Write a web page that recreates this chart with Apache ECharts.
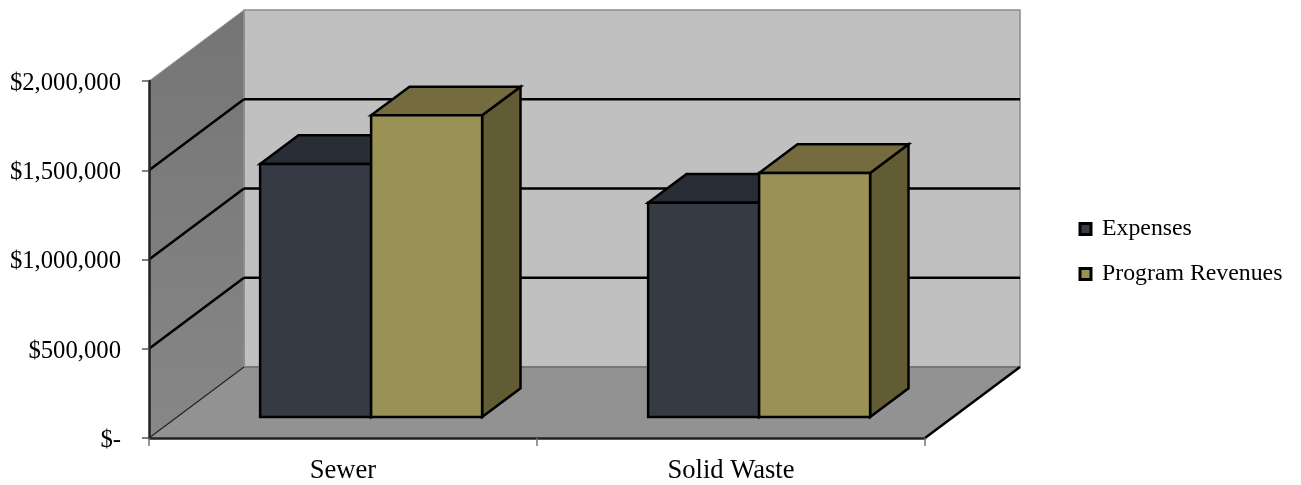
<!DOCTYPE html>
<html><head><meta charset="utf-8">
<style>html,body{margin:0;padding:0;background:#fff}#c{width:1301px;height:485px}</style>
<script src="https://cdn.jsdelivr.net/npm/echarts@6/dist/echarts.min.js"></script>
</head><body><div id="c"></div>
<script>
const categories = ['Sewer', 'Solid Waste'];
const expenses = [1417000, 1200000];
const programRevenues = [1690000, 1367000];
const yTicks = [0, 500000, 1000000, 1500000, 2000000];

const DX = 95, DY = 71;           // full depth of the 3D box
const FRONT = 0.296, BACK = 0.70; // depth of bar front and back faces
const BAR = 111 / 388;            // bar width as a share of the category band
const FONT = '"Liberation Serif","Times New Roman",serif';
const off = (p, t) => [p[0] + DX * t, p[1] - DY * t];
const line = (a, b, color, w) => ({type:'line', shape:{x1:a[0],y1:a[1],x2:b[0],y2:b[1]}, style:{stroke:color,lineWidth:w}, silent:true});
const poly = (pts, fill, stroke, w) => ({type:'polygon', shape:{points:pts}, style:{fill, stroke, lineWidth:w, lineJoin:'miter'}, silent:true});

function renderWalls(params, api) {
  const c = params.coordSys, l = c.x, r = c.x + c.width, t = c.y, b = c.y + c.height;
  const kids = [
    poly([[l,t],off([l,t],1),off([l,b],1),[l,b]], {type:'linear',x:0,y:0,x2:0,y2:1,colorStops:[{offset:0,color:'#757575'},{offset:1,color:'#878787'}]}, null, 0),
    poly([off([l,t],1),off([r,t],1),off([r,b],1),off([l,b],1)], '#c0c0c0', '#8c8c8c', 1.5),
    poly([[l,b],off([l,b],1),off([r,b],1),[r,b]], '#929292', null, 0),
    line(off([l,b],1), off([r,b],1), '#6e6e6e', 1.5),
    line([l,t], off([l,t],1), '#9a9a9a', 1),
    line(off([l,t],1), off([l,b],1), '#8c8c8c', 1.5),
    line([l,b], off([l,b],1), '#222', 1.2),
    line([r,b], off([r,b],1), '#000', 2.5)
  ];
  yTicks.slice(1, -1).forEach(v => {
    const y = api.coord([0, v])[1];
    kids.push(line([l,y], off([l,y],1), '#000', 2.5));
    kids.push(line(off([l,y],1), off([r,y],1), '#000', 2.5));
  });
  return {type:'group', children:kids};
}

function barRenderer(slot, front, top, side) {
  return function (params, api) {
    const i = api.value(0), v = api.value(1);
    const w = api.size([1, 0])[0] * BAR;
    const cx = api.coord([i, 0])[0];
    const y0 = api.coord([i, 0])[1], y1 = api.coord([i, v])[1];
    const x0 = cx + slot * w, x1 = x0 + w;
    const f = (x, y) => off([x, y], FRONT), k = (x, y) => off([x, y], BACK);
    return {type:'group', children:[
      poly([f(x1,y1),k(x1,y1),k(x1,y0),f(x1,y0)], side, '#000', 2.5),
      poly([f(x0,y1),k(x0,y1),k(x1,y1),f(x1,y1)], top, '#000', 2.5),
      poly([f(x0,y1),f(x1,y1),f(x1,y0),f(x0,y0)], front, '#000', 2.5)
    ]};
  };
}

const chart = echarts.init(document.getElementById('c'), null, {renderer:'canvas'});
chart.setOption({
  animation:false,
  backgroundColor:'#fff',
  textStyle:{fontFamily:FONT},
  grid:{left:149, top:81, width:776, height:357, containLabel:false, outerBoundsMode:'none'},
  legend:{
    orient:'vertical', left:1073.5, top:212, itemWidth:11, itemHeight:11, itemGap:21,
    data:['Expenses','Program Revenues'], icon:'rect',
    itemStyle:{borderColor:'#000', borderWidth:3},
    textStyle:{fontFamily:FONT, fontSize:23.8, color:'#000', padding:[0,0,0,6]},
    selectedMode:false
  },
  xAxis:{
    type:'category', data:categories, z:10,
    axisLine:{lineStyle:{color:'#222', width:2.5}},
    axisTick:{show:true, length:8, alignWithLabel:false, lineStyle:{color:'#777', width:1.5}},
    axisLabel:{fontFamily:FONT, fontSize:26.6, color:'#000', margin:20},
    splitLine:{show:false}
  },
  yAxis:{
    type:'value', min:0, max:2000000, interval:500000, z:10,
    axisLine:{show:true, lineStyle:{color:'#222', width:2.5}},
    axisTick:{show:true, length:7, lineStyle:{color:'#555', width:1.5}},
    axisLabel:{fontFamily:FONT, fontSize:24.7, color:'#000', margin:28, verticalAlign:'top', lineHeight:5,
      formatter:v => v === 0 ? '$-' : '$' + v.toLocaleString('en-US')},
    splitLine:{show:false}
  },
  series:[
    {type:'custom', name:'walls', z:1, silent:true, data:[[0,0]], renderItem:renderWalls, clip:false},
    {type:'custom', name:'Expenses', z:2, clip:false, silent:true,
     itemStyle:{color:'#353a45'},
     data:expenses.map((v,i)=>[i,v]), encode:{x:0,y:1},
     renderItem:barRenderer(-1,'#353a45','#292d35','#22262d')},
    {type:'custom', name:'Program Revenues', z:3, clip:false, silent:true,
     itemStyle:{color:'#9a9155'},
     data:programRevenues.map((v,i)=>[i,v]), encode:{x:0,y:1},
     renderItem:barRenderer(0,'#9a9155','#746c3f','#625c35')}
  ]
});
</script></body></html>
